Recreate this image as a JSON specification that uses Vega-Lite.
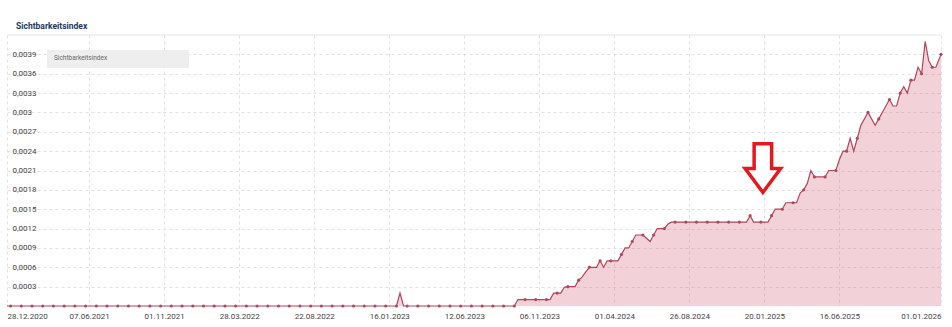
{
"$schema": "https://vega.github.io/schema/vega-lite/v6.json",
"width": 934, "height": 271,
"autosize": {"type": "none"},
"padding": {"left": 7, "top": 35, "right": 11, "bottom": 21},
"background": "white",
"config": {"view": {"stroke": null}, "font": "Roboto"},
"title": {"text": "Sichtbarkeitsindex", "anchor": "start", "frame": "group", "fontSize": 8.5, "fontWeight": "bold", "color": "#1c3a5e", "dx": 9, "offset": 0, "baseline": "middle"},
"datasets": {"idx": [
{"d":"2020-12-28","v":0},
{"d":"2021-01-04","v":0},{"d":"2021-01-11","v":0},{"d":"2021-01-18","v":0},{"d":"2021-01-25","v":0},{"d":"2021-02-01","v":0},{"d":"2021-02-08","v":0},{"d":"2021-02-15","v":0},{"d":"2021-02-22","v":0},{"d":"2021-03-01","v":0},{"d":"2021-03-08","v":0},{"d":"2021-03-15","v":0},{"d":"2021-03-22","v":0},{"d":"2021-03-29","v":0},{"d":"2021-04-05","v":0},{"d":"2021-04-12","v":0},{"d":"2021-04-19","v":0},{"d":"2021-04-26","v":0},{"d":"2021-05-03","v":0},{"d":"2021-05-10","v":0},{"d":"2021-05-17","v":0},{"d":"2021-05-24","v":0},{"d":"2021-05-31","v":0},{"d":"2021-06-07","v":0},{"d":"2021-06-14","v":0},{"d":"2021-06-21","v":0},{"d":"2021-06-28","v":0},{"d":"2021-07-05","v":0},{"d":"2021-07-12","v":0},{"d":"2021-07-19","v":0},{"d":"2021-07-26","v":0},{"d":"2021-08-02","v":0},{"d":"2021-08-09","v":0},{"d":"2021-08-16","v":0},{"d":"2021-08-23","v":0},{"d":"2021-08-30","v":0},{"d":"2021-09-06","v":0},{"d":"2021-09-13","v":0},{"d":"2021-09-20","v":0},{"d":"2021-09-27","v":0},{"d":"2021-10-04","v":0},{"d":"2021-10-11","v":0},{"d":"2021-10-18","v":0},{"d":"2021-10-25","v":0},{"d":"2021-11-01","v":0},{"d":"2021-11-08","v":0},{"d":"2021-11-15","v":0},{"d":"2021-11-22","v":0},{"d":"2021-11-29","v":0},{"d":"2021-12-06","v":0},{"d":"2021-12-13","v":0},{"d":"2021-12-20","v":0},{"d":"2021-12-27","v":0},
{"d":"2022-01-03","v":0},{"d":"2022-01-10","v":0},{"d":"2022-01-17","v":0},{"d":"2022-01-24","v":0},{"d":"2022-01-31","v":0},{"d":"2022-02-07","v":0},{"d":"2022-02-14","v":0},{"d":"2022-02-21","v":0},{"d":"2022-02-28","v":0},{"d":"2022-03-07","v":0},{"d":"2022-03-14","v":0},{"d":"2022-03-21","v":0},{"d":"2022-03-28","v":0},{"d":"2022-04-04","v":0},{"d":"2022-04-11","v":0},{"d":"2022-04-18","v":0},{"d":"2022-04-25","v":0},{"d":"2022-05-02","v":0},{"d":"2022-05-09","v":0},{"d":"2022-05-16","v":0},{"d":"2022-05-23","v":0},{"d":"2022-05-30","v":0},{"d":"2022-06-06","v":0},{"d":"2022-06-13","v":0},{"d":"2022-06-20","v":0},{"d":"2022-06-27","v":0},{"d":"2022-07-04","v":0},{"d":"2022-07-11","v":0},{"d":"2022-07-18","v":0},{"d":"2022-07-25","v":0},{"d":"2022-08-01","v":0},{"d":"2022-08-08","v":0},{"d":"2022-08-15","v":0},{"d":"2022-08-22","v":0},{"d":"2022-08-29","v":0},{"d":"2022-09-05","v":0},{"d":"2022-09-12","v":0},{"d":"2022-09-19","v":0},{"d":"2022-09-26","v":0},{"d":"2022-10-03","v":0},{"d":"2022-10-10","v":0},{"d":"2022-10-17","v":0},{"d":"2022-10-24","v":0},{"d":"2022-10-31","v":0},{"d":"2022-11-07","v":0},{"d":"2022-11-14","v":0},{"d":"2022-11-21","v":0},{"d":"2022-11-28","v":0},{"d":"2022-12-05","v":0},{"d":"2022-12-12","v":0},{"d":"2022-12-19","v":0},{"d":"2022-12-26","v":0},
{"d":"2023-01-02","v":0},{"d":"2023-01-09","v":0},{"d":"2023-01-16","v":0},{"d":"2023-01-23","v":0},{"d":"2023-01-30","v":0},{"d":"2023-02-06","v":0.0002},{"d":"2023-02-13","v":0},{"d":"2023-02-20","v":0},{"d":"2023-02-27","v":0},{"d":"2023-03-06","v":0},{"d":"2023-03-13","v":0},{"d":"2023-03-20","v":0},{"d":"2023-03-27","v":0},{"d":"2023-04-03","v":0},{"d":"2023-04-10","v":0},{"d":"2023-04-17","v":0},{"d":"2023-04-24","v":0},{"d":"2023-05-01","v":0},{"d":"2023-05-08","v":0},{"d":"2023-05-15","v":0},{"d":"2023-05-22","v":0},{"d":"2023-05-29","v":0},{"d":"2023-06-05","v":0},{"d":"2023-06-12","v":0},{"d":"2023-06-19","v":0},{"d":"2023-06-26","v":0},{"d":"2023-07-03","v":0},{"d":"2023-07-10","v":0},{"d":"2023-07-17","v":0},{"d":"2023-07-24","v":0},{"d":"2023-07-31","v":0},{"d":"2023-08-07","v":0},{"d":"2023-08-14","v":0},{"d":"2023-08-21","v":0},{"d":"2023-08-28","v":0},{"d":"2023-09-04","v":0},{"d":"2023-09-11","v":0},{"d":"2023-09-18","v":0},{"d":"2023-09-25","v":0.0001},{"d":"2023-10-02","v":0.0001},{"d":"2023-10-09","v":0.0001},{"d":"2023-10-16","v":0.0001},{"d":"2023-10-23","v":0.0001},{"d":"2023-10-30","v":0.0001},{"d":"2023-11-06","v":0.0001},{"d":"2023-11-13","v":0.0001},{"d":"2023-11-20","v":0.0001},{"d":"2023-11-27","v":0.0001},{"d":"2023-12-04","v":0.0002},{"d":"2023-12-11","v":0.0002},{"d":"2023-12-18","v":0.0002},{"d":"2023-12-25","v":0.00029},
{"d":"2024-01-01","v":0.0003},{"d":"2024-01-08","v":0.0003},{"d":"2024-01-15","v":0.0003},{"d":"2024-01-22","v":0.0004},{"d":"2024-01-29","v":0.00045},{"d":"2024-02-05","v":0.00053},{"d":"2024-02-12","v":0.0006},{"d":"2024-02-19","v":0.0006},{"d":"2024-02-26","v":0.0006},{"d":"2024-03-04","v":0.0007},{"d":"2024-03-11","v":0.0006},{"d":"2024-03-18","v":0.0007},{"d":"2024-03-25","v":0.0007},{"d":"2024-04-01","v":0.0007},{"d":"2024-04-08","v":0.0007},{"d":"2024-04-15","v":0.0008},{"d":"2024-04-22","v":0.0009},{"d":"2024-04-29","v":0.0009},{"d":"2024-05-06","v":0.001},{"d":"2024-05-13","v":0.0011},{"d":"2024-05-20","v":0.0011},{"d":"2024-05-27","v":0.0011},{"d":"2024-06-03","v":0.00105},{"d":"2024-06-10","v":0.001},{"d":"2024-06-17","v":0.0011},{"d":"2024-06-24","v":0.0012},{"d":"2024-07-01","v":0.0012},{"d":"2024-07-08","v":0.0012},{"d":"2024-07-15","v":0.00127},{"d":"2024-07-22","v":0.0013},{"d":"2024-07-29","v":0.0013},{"d":"2024-08-05","v":0.0013},{"d":"2024-08-12","v":0.0013},{"d":"2024-08-19","v":0.0013},{"d":"2024-08-26","v":0.0013},{"d":"2024-09-02","v":0.0013},{"d":"2024-09-09","v":0.0013},{"d":"2024-09-16","v":0.0013},{"d":"2024-09-23","v":0.0013},{"d":"2024-09-30","v":0.0013},{"d":"2024-10-07","v":0.0013},{"d":"2024-10-14","v":0.0013},{"d":"2024-10-21","v":0.0013},{"d":"2024-10-28","v":0.0013},{"d":"2024-11-04","v":0.0013},{"d":"2024-11-11","v":0.0013},{"d":"2024-11-18","v":0.0013},{"d":"2024-11-25","v":0.0013},{"d":"2024-12-02","v":0.0013},{"d":"2024-12-09","v":0.0013},{"d":"2024-12-16","v":0.0013},{"d":"2024-12-23","v":0.0014},{"d":"2024-12-30","v":0.0013},
{"d":"2025-01-06","v":0.0013},{"d":"2025-01-13","v":0.0013},{"d":"2025-01-20","v":0.0013},{"d":"2025-01-27","v":0.0013},{"d":"2025-02-03","v":0.0014},{"d":"2025-02-10","v":0.0015},{"d":"2025-02-17","v":0.0015},{"d":"2025-02-24","v":0.0015},{"d":"2025-03-03","v":0.0016},{"d":"2025-03-10","v":0.0016},{"d":"2025-03-17","v":0.0016},{"d":"2025-03-24","v":0.0016},{"d":"2025-03-31","v":0.00175},{"d":"2025-04-07","v":0.0018},{"d":"2025-04-14","v":0.0019},{"d":"2025-04-21","v":0.0021},{"d":"2025-04-28","v":0.002},{"d":"2025-05-05","v":0.002},{"d":"2025-05-12","v":0.002},{"d":"2025-05-19","v":0.002},{"d":"2025-05-26","v":0.0021},{"d":"2025-06-02","v":0.0021},{"d":"2025-06-09","v":0.0021},{"d":"2025-06-16","v":0.00227},{"d":"2025-06-23","v":0.0024},{"d":"2025-06-30","v":0.0024},{"d":"2025-07-07","v":0.0026},{"d":"2025-07-14","v":0.0024},{"d":"2025-07-21","v":0.0026},{"d":"2025-07-28","v":0.0028},{"d":"2025-08-04","v":0.0029},{"d":"2025-08-11","v":0.003},{"d":"2025-08-18","v":0.0029},{"d":"2025-08-25","v":0.0028},{"d":"2025-09-01","v":0.0029},{"d":"2025-09-08","v":0.003},{"d":"2025-09-15","v":0.0031},{"d":"2025-09-22","v":0.0032},{"d":"2025-09-29","v":0.0031},{"d":"2025-10-06","v":0.0031},{"d":"2025-10-13","v":0.0033},{"d":"2025-10-20","v":0.0034},{"d":"2025-10-27","v":0.0033},{"d":"2025-11-03","v":0.0035},{"d":"2025-11-10","v":0.0035},{"d":"2025-11-17","v":0.0037},{"d":"2025-11-24","v":0.0036},{"d":"2025-12-01","v":0.0041},{"d":"2025-12-08","v":0.0038},{"d":"2025-12-15","v":0.0037},{"d":"2025-12-22","v":0.0037},
{"d":"2026-01-01","v":0.0039}
]},
"data": {"name": "idx"},
"layer": [
{"mark": {"type": "area", "color": "#cc4c64", "opacity": 0.25},
 "encoding": {
  "x": {"field": "d", "type": "temporal",
        "scale": {"type": "utc", "domain": [{"year": 2020, "month": 12, "date": 28, "utc": true}, {"year": 2026, "month": 1, "date": 1, "utc": true}]},
        "axis": {"title": null, "format": "%d.%m.%Y", "labelFontSize": 8, "labelColor": "#444", "labelFont": "Roboto", "ticks": false, "domain": false, "grid": true, "gridDash": [3, 3], "gridColor": "#e2e2e2", "labelPadding": 6, "labelOverlap": false, "tickCount": 30,
                 "labelAlign": {"condition": [{"test": "datum.value > utc(2025, 10, 30)", "value": "right"}, {"test": "datum.value < utc(2021, 0, 10)", "value": "left"}], "value": "center"},
                 "values": [{"year":2020,"month":12,"date":28,"utc":true},{"year":2021,"month":6,"date":7,"utc":true},{"year":2021,"month":11,"date":1,"utc":true},{"year":2022,"month":3,"date":28,"utc":true},{"year":2022,"month":8,"date":22,"utc":true},{"year":2023,"month":1,"date":16,"utc":true},{"year":2023,"month":6,"date":12,"utc":true},{"year":2023,"month":11,"date":6,"utc":true},{"year":2024,"month":4,"date":1,"utc":true},{"year":2024,"month":8,"date":26,"utc":true},{"year":2025,"month":1,"date":20,"utc":true},{"year":2025,"month":6,"date":16,"utc":true},{"year":2026,"month":1,"date":1,"utc":true}]}},
  "y": {"field": "v", "type": "quantitative",
        "scale": {"domain": [0, 0.0042], "nice": false},
        "axis": {"title": null, "values": [0.0003, 0.0006, 0.0009, 0.0012, 0.0015, 0.0018, 0.0021, 0.0024, 0.0027, 0.003, 0.0033, 0.0036, 0.0039],
                 "tickCount": 30,
                 "labelExpr": "replace(format(datum.value, '.4~f'), '.', ',')", "labelOverlap": false,
                 "labelAlign": "left", "labelBaseline": "middle", "labelPadding": -5, "ticks": false, "domain": false,
                 "grid": true, "gridDash": [3, 3], "gridColor": "#e2e2e2", "labelFontSize": 8, "labelColor": "#444", "labelFont": "Roboto"}}
 }},
{"mark": {"type": "line", "strokeWidth": 1.2},
 "encoding": {
  "x": {"field": "d", "type": "temporal"},
  "y": {"field": "v", "type": "quantitative"},
  "color": {"datum": "Sichtbarkeitsindex", "type": "nominal",
            "scale": {"range": ["#b0475c"]},
            "legend": {"orient": "none", "legendX": 40, "legendY": 15, "title": null, "fillColor": "#eeeeee", "padding": 6,
                       "symbolSize": 100, "symbolOpacity": 0, "symbolStrokeWidth": 0, "symbolOffset": 120, "labelOffset": -129,
                       "labelBaseline": "bottom",
                       "labelFontSize": 6.5, "labelColor": "#666", "labelFont": "Roboto"}}
 }},
{"transform": [{"window": [{"op": "row_number", "as": "rn"}]}, {"filter": "(datum.rn - 2) % 3 == 0 || datum.rn == 262"}],
 "mark": {"type": "circle", "size": 10, "color": "#b0475c", "opacity": 1},
 "encoding": {
  "x": {"field": "d", "type": "temporal"},
  "y": {"field": "v", "type": "quantitative"}
 }},
{"data": {"values": [{}]},
 "mark": {"type": "rule", "color": "#e6e6e6", "strokeWidth": 1},
 "encoding": {"y": {"datum": 0.0042, "type": "quantitative"}}},
{"data": {"values": [{}]},
 "mark": {"type": "point", "shape": "M-0.33,-0.94L0.33,-0.94L0.33,0L0.67,0L0,0.9L-0.67,0L-0.33,0Z", "size": 2809, "stroke": "#e3191f", "strokeWidth": 3.5, "fill": "white", "filled": true, "opacity": 1, "strokeOpacity": 1, "fillOpacity": 1, "strokeJoin": "miter"},
 "encoding": {
  "x": {"datum": {"year": 2025, "month": 1, "date": 17, "utc": true}, "type": "temporal"},
  "y": {"datum": 0.00213, "type": "quantitative"}
 }}
]
}
